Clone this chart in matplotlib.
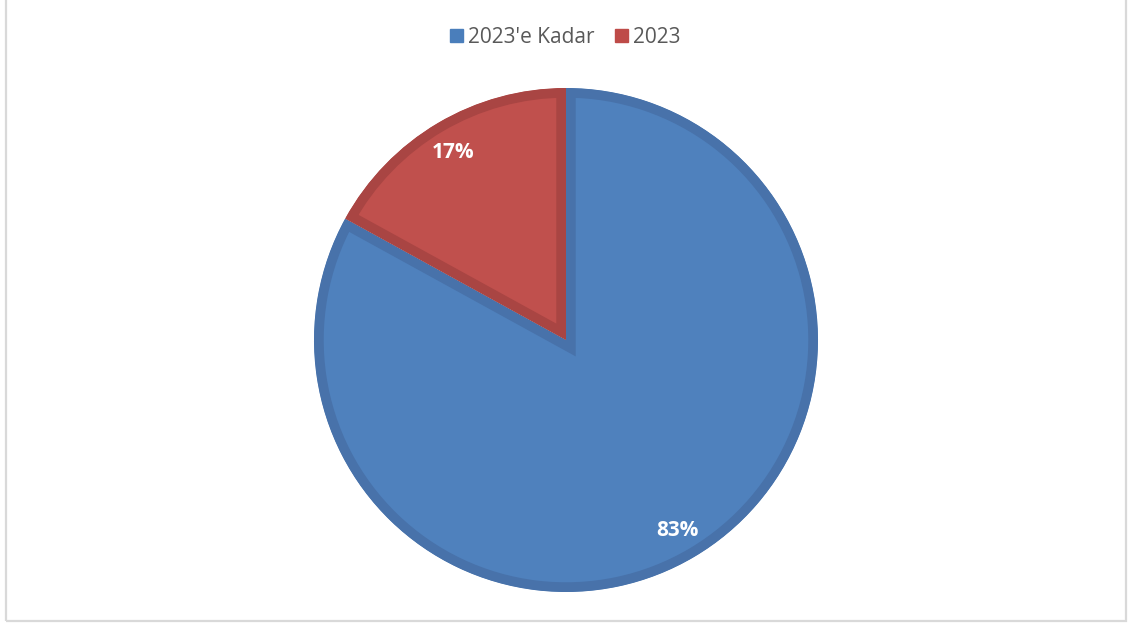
import matplotlib
matplotlib.use('Agg')
import matplotlib.pyplot as plt
from matplotlib.patches import Rectangle

# chart data
labels = ["2023'e Kadar", "2023"]
values = [83, 17]
fill_colors = ['#4F81BD', '#C0504D']
edge_colors = ['#4872AA', '#A94543']
legend_colors = ['#4A7EBB', '#BE4B48']

plt.rcParams['font.family'] = ['Open Sans', 'DejaVu Sans']

fig = plt.figure(figsize=(11.31, 6.26), dpi=100)
ax = fig.add_axes([0, 0, 1, 1])

wedges, texts = ax.pie(values, colors=fill_colors, startangle=90, counterclock=False,
                       center=(566, 286), radius=252, frame=True,
                       wedgeprops=dict(linewidth=14, joinstyle='miter'))
ax.set_xlim(0, 1131)
ax.set_ylim(0, 626)
ax.set_aspect('equal')
ax.axis('off')

for w, ec in zip(wedges, edge_colors):
    w.set_edgecolor(ec)
    # keep only the inner half of the stroke
    w.set_clip_on(True)
    w.set_clip_path(w)

# light gray frame round the chart area
ax.add_patch(Rectangle((5.5, 5.5), 1120, 640, fill=False, edgecolor='#D9D9D9', lw=1.6))

# percent labels
label_pos = [(677, 95), (453, 473)]
for (x, y), v in zip(label_pos, values):
    ax.text(x, y, f'{v}%', color='white', fontsize=15, fontweight='bold',
            ha='center', va='center')

# legend
handles = [Rectangle((0, 0), 1, 1, color=c) for c in legend_colors]
leg = fig.legend(handles, labels, loc='center', bbox_to_anchor=(0.5, 0.94), ncol=2,
                 frameon=False, fontsize=15, handlelength=0.6, handleheight=0.6,
                 handletextpad=0.25, columnspacing=1.0)
for t in leg.get_texts():
    t.set_color('#595959')

fig.savefig('out.png', dpi=100)
